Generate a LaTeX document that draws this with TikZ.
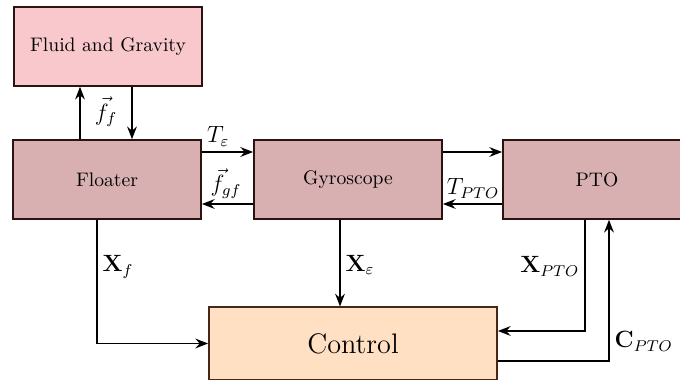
\documentclass[tikz,border=0pt]{standalone}
\usepackage{amsmath,amssymb}
\usepackage{tikz}
\usetikzlibrary{arrows.meta,calc}

\definecolor{fluidpink}{RGB}{248,200,204}
\definecolor{blockrose}{RGB}{216,176,178}
\definecolor{ctrlpeach}{RGB}{255,224,194}
\definecolor{blockline}{RGB}{45,18,18}
\definecolor{ctrlline}{RGB}{70,40,20}

\tikzset{
	blockbox/.style={draw=blockline, fill=blockrose, thick, minimum width=96pt, minimum height=40.3pt},
	fluidbox/.style={blockbox, fill=fluidpink},
	ctrlbox/.style={draw=ctrlline, fill=ctrlpeach, thick, minimum width=147pt, minimum height=37pt},
	flow/.style={->, thick},
	sig/.style={font=\large, inner sep=2.5pt}
}

\begin{document}
\begin{tikzpicture}[x=0.51pt, y=-0.51pt, >={Stealth[length=6.5pt,width=5pt,inset=2.2pt]}]
		\useasboundingbox (0,0) rectangle (680,380);

		\node[fluidbox] (fluid) at (108,46.5) {Fluid and Gravity};
		\node[blockbox] (floater) at (107,179.5) {Floater};
		\node[blockbox] (gyro) at (348,179.5) {Gyroscope};
		\node[blockbox] (pto) at (597,179.5) {PTO};
		\node[ctrlbox] (control) at (353,343.5) {\Large Control};

		% floater and fluid
		\draw[flow] ($(floater.north)+(-27,0)$) coordinate (fup) -- (fup |- fluid.south);
		\draw[flow] ($(fluid.south)+(24,0)$) coordinate (fdn) -- (fdn |- floater.north);
		\node[sig] (ff) at (106,112) {$\vec{f}_f$};

		% floater, gyroscope, pto
		\draw[flow] ($(floater.east)+(0,-27.5)$) coordinate (tg) -- (tg -| gyro.west)
			node[sig,pos=0.32,above] (teps) {$T_\varepsilon$};
		\draw[flow] ($(gyro.west)+(0,24.5)$) coordinate (gf) -- (gf -| floater.east)
			node[sig,pos=0.53,above] (fgf) {$\vec{f}_{gf}$};
		\draw[flow] ($(gyro.east)+(0,-27.5)$) coordinate (gp) -- (gp -| pto.west);
		\draw[flow] ($(pto.west)+(0,24.5)$) coordinate (pg) -- (pg -| gyro.east)
			node[sig,pos=0.49,above] (tpto) {$T_{PTO}$};

		% to and from control
		\draw[flow] ($(floater.south)+(-10,0)$) |- (control.west)
			node[sig,pos=0.19,right] (xf) {$\mathbf{X}_f$};
		\draw[flow] ($(gyro.south)+(-8,0)$) coordinate (gc) -- (gc |- control.north)
			node[sig,pos=0.52,right] (xeps) {$\mathbf{X}_\varepsilon$};
		\draw[flow] ($(pto.south)+(-12,0)$) |- ($(control.east)+(0,-12.5)$)
			node[sig,pos=0.21,left] (xpto) {$\mathbf{X}_{PTO}$};
		\draw[flow] ($(control.east)+(0,17.5)$) -| ($(pto.south)+(12,0)$)
			node[sig,pos=0.57,right] (cpto) {$\mathbf{C}_{PTO}$};
	\end{tikzpicture}
\end{document}
